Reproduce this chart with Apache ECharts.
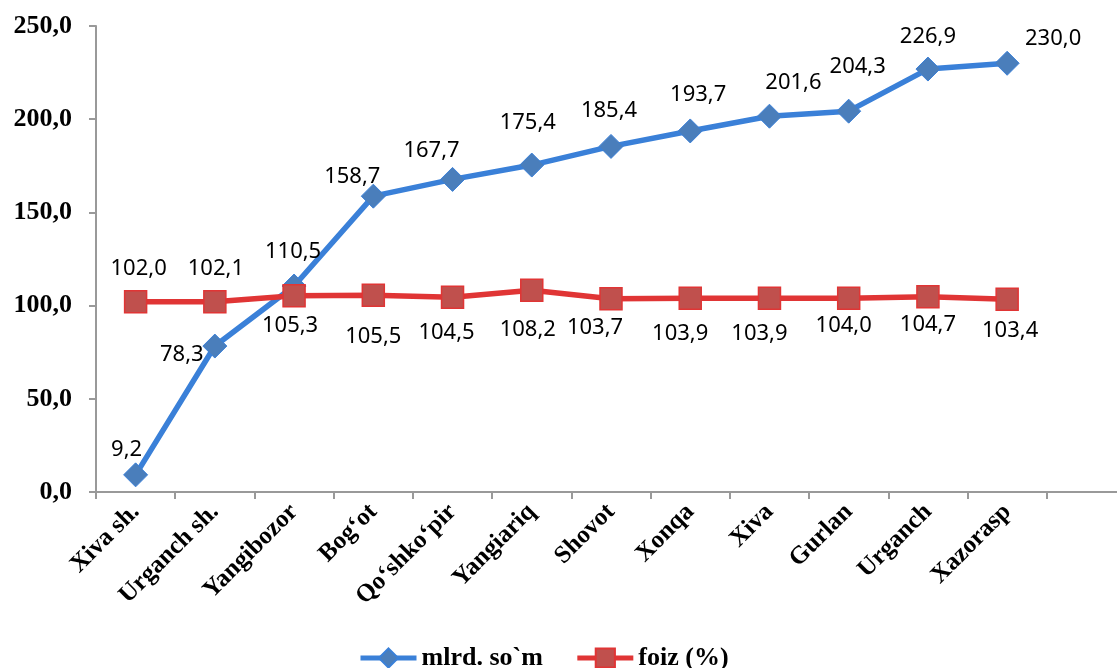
<!DOCTYPE html>
<html>
<head>
<meta charset="utf-8">
<script src="https://cdn.jsdelivr.net/npm/echarts@6/dist/echarts.min.js"></script>
<style>
html,body{margin:0;padding:0;background:#fff;overflow:hidden;}
#chart{width:1126px;height:668px;}
</style>
</head>
<body>
<div id="chart"></div>
<script>
// ---- data ----
const categories = ['Xiva sh.', 'Urganch sh.', 'Yangibozor', 'Bog\u02bbot', 'Qo\u02bbshko\u02bbpir', 'Yangiariq', 'Shovot', 'Xonqa', 'Xiva', 'Gurlan', 'Urganch', 'Xazorasp'];
const seriesNames = ['mlrd. so`m', 'foiz (%)'];
const mlrdSom = [9.2, 78.3, 110.5, 158.7, 167.7, 175.4, 185.4, 193.7, 201.6, 204.3, 226.9, 230.0];
const foiz = [102.0, 102.1, 105.3, 105.5, 104.5, 108.2, 103.7, 103.9, 103.9, 104.0, 104.7, 103.4];
const yTicks = {min: 0, max: 250, interval: 50};

// ---- label placement (layout only, pixels relative to marker centre) ----
const blueLabelOffsets = [[-9,-25],[-33,9],[-1,-34],[-21,-19],[-21,-29],[-4,-42],[-2,-36],[8,-36],[24,-33],[9,-44],[0,-32],[46,-25]];
const redLabelOffsets = [[3,-33],[1,-33],[-4,30],[0,41],[-6,36],[-4,39],[-16,29],[-10,35],[-10,35],[-5,28],[0,28],[3,31]];

const fmt = v => Number(v).toFixed(1).replace('.', ',');
const xData = categories.concat(['']); // one trailing empty slot, as in the reference axis

function withOffsets(vals, offs){
  return vals.map((v,i)=>({value:v, label:{offset:offs[i]}}));
}

const labelStyle = {
  show:true, position:'inside', color:'#000', fontFamily:'Noto Sans', fontSize:22,
  align:'center', verticalAlign:'middle', formatter:p=>fmt(p.value)
};

const chart = echarts.init(document.getElementById('chart'), null, {renderer:'canvas'});
chart.setOption({
  animation:false,
  backgroundColor:'#fff',
  grid:{left:96, top:26, bottom:176, right:0, containLabel:false},
  legend:{
    top:645, left:358, padding:0, itemWidth:56, itemHeight:24, itemGap:32,
    lineStyle:{width:5},
    textStyle:{fontFamily:'Liberation Serif', fontWeight:'bold', fontSize:26, color:'#000'},
    data:seriesNames
  },
  xAxis:{
    type:'category', data:xData, boundaryGap:true,
    axisLine:{lineStyle:{color:'#999', width:2}},
    axisTick:{show:true, length:7, lineStyle:{color:'#999', width:2}},
    axisLabel:{rotate:45, interval:0, margin:16, color:'#000', fontFamily:'Liberation Serif', fontWeight:'bold', fontSize:25}
  },
  yAxis:{
    type:'value', min:yTicks.min, max:yTicks.max, interval:yTicks.interval,
    splitLine:{show:false},
    axisLine:{show:true, lineStyle:{color:'#999', width:2}},
    axisTick:{show:true, length:7, lineStyle:{color:'#999', width:2}},
    axisLabel:{margin:24, color:'#000', fontFamily:'Liberation Serif', fontWeight:'bold', fontSize:26, formatter:v=>fmt(v)}
  },
  series:[
    {
      name:seriesNames[0], type:'line', data:withOffsets(mlrdSom, blueLabelOffsets),
      symbol:'diamond', symbolSize:24,
      lineStyle:{color:'#3A80D8', width:5.5},
      itemStyle:{color:'#4A7EBB', borderColor:'#3A80D8', borderWidth:1},
      label:labelStyle, z:2
    },
    {
      name:seriesNames[1], type:'line', data:withOffsets(foiz, redLabelOffsets),
      symbol:'rect', symbolSize:22,
      lineStyle:{color:'#E03535', width:5.5},
      itemStyle:{color:'#C0504D', borderColor:'#E03535', borderWidth:1.5},
      label:labelStyle, z:3
    }
  ]
});
</script>
</body>
</html>
